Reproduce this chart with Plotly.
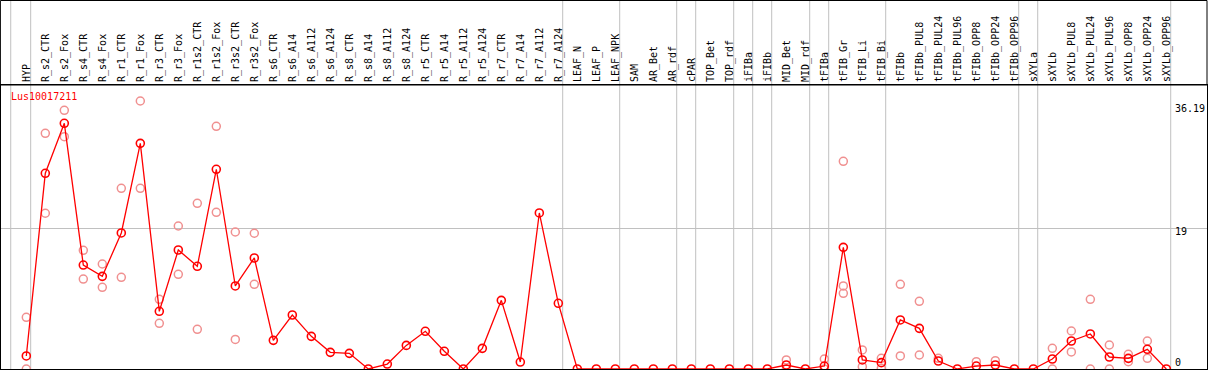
import plotly.graph_objects as go

categories = ["HYP", "R_s2_CTR", "R_s2_Fox", "R_s4_CTR", "R_s4_Fox", "R_r1_CTR", "R_r1_Fox",
              "R_r3_CTR", "R_r3_Fox", "R_r1s2_CTR", "R_r1s2_Fox", "R_r3s2_CTR", "R_r3s2_Fox",
              "R_s6_CTR", "R_s6_A14", "R_s6_A112", "R_s6_A124", "R_s8_CTR", "R_s8_A14", "R_s8_A112",
              "R_s8_A124", "R_r5_CTR", "R_r5_A14", "R_r5_A112", "R_r5_A124", "R_r7_CTR", "R_r7_A14",
              "R_r7_A112", "R_r7_A124", "LEAF_N", "LEAF_P", "LEAF_NPK", "SAM", "AR_Bet", "AR_rdf",
              "cPAR", "TOP_Bet", "TOP_rdf", "iFIBa", "iFIBb", "MID_Bet", "MID_rdf", "tFIBa",
              "tFIB_Gr", "tFIB_Li", "tFIB_Bi", "tFIBb", "tFIBb_PUL8", "tFIBb_PUL24", "tFIBb_PUL96",
              "tFIBb_OPP8", "tFIBb_OPP24", "tFIBb_OPP96", "sXYLa", "sXYLb", "sXYLb_PUL8",
              "sXYLb_PUL24", "sXYLb_PUL96", "sXYLb_OPP8", "sXYLb_OPP24", "sXYLb_OPP96"]

mean_values = [1.76, 26.43, 33.18, 14.04, 12.51, 18.37, 30.47, 7.79, 16.07, 13.87, 26.97, 11.21, 14.99,
               3.87, 7.29, 4.41, 2.25, 2.11, 0.0, 0.67, 3.19, 5.09, 2.39, 0.0, 2.79, 9.27, 0.94,
               21.07, 8.87, 0.0, 0.0, 0.0, 0.0, 0.0, 0.0, 0.0, 0.0, 0.0, 0.0, 0.0, 0.54, 0.0, 0.4,
               16.43, 1.22, 0.86, 6.62, 5.49, 1.08, 0.0, 0.4, 0.54, 0.0, 0.0, 1.35, 3.78, 4.73,
               1.62, 1.44, 2.66, 0.0]

N = None
rep_a = [6.98, 31.83, 34.93, 16.03, 14.18, 24.4, 36.19, 9.41, 19.31, 22.38, 32.77, 18.5, 18.33,
         N, N, N, N, N, N, N, N, N, N, N, N, N, N, N, N, N, N, N, N, N, N, N, N, N, N, N,
         1.22, N, 1.35, 28.05, 2.57, 1.44, 11.44, 9.14, 1.44, N, 0.99, 1.13, N, N, 2.79, 5.13,
         9.41, 3.24, 1.98, 3.78, N]
rep_b = [0.0, 21.03, 31.37, 12.15, 11.03, 12.38, 24.4, 6.17, 12.78, 5.36, 21.16, 4.0, 11.44,
         N, N, N, N, N, N, N, N, N, N, N, N, N, N, N, N, N, N, N, N, N, N, N, N, N, N, N,
         0.0, N, 0.0, 11.21, 0.32, 0.1, 1.76, 1.89, N, N, N, N, N, N, 0.0, 2.3,
         0.0, 0.0, 0.99, 1.44, N]
rep_c = [N] * 43 + [10.22] + [N] * 17

group_ends = [-0.82, 0.23, 28.23, 31.23, 34.23, 35.23, 37.23, 38.23, 39.23, 41.23, 42.23, 45.23,
              52.23, 53.23, 60.23]
gene_label = "Lus10017211"
y_labels = [(36.19, "36.19", -7), (19, "19", -3.5), (0, "0", 7)]

FONT = "DejaVu Sans Mono"
W, H = 1209, 370
ML, MR, MT, MB = 1, 2, 85, 1
plot_h = H - MT - MB
x_idx = list(range(len(categories)))

fig = go.Figure()
for reps in (rep_a, rep_b, rep_c):
    fig.add_trace(go.Scatter(
        x=x_idx, y=reps, mode="markers",
        marker=dict(symbol="circle-open", size=8, color="#f09090", line=dict(width=1.5, color="#f09090")),
        showlegend=False, hoverinfo="skip"))
fig.add_trace(go.Scatter(
    x=x_idx, y=mean_values, mode="lines+markers",
    line=dict(color="#ff0000", width=1.3),
    marker=dict(symbol="circle-open", size=8, color="#ff0000", line=dict(width=1.6, color="#ff0000")),
    showlegend=False))

shapes = []
for g in group_ends:
    shapes.append(dict(type="line", xref="x", yref="paper", x0=g, x1=g, y0=0, y1=1 + (MT - 0.5) / plot_h,
                       line=dict(color="#c0c0c0", width=1), layer="below"))
shapes.append(dict(type="rect", xref="paper", yref="paper", x0=-0.0005, x1=1, y0=1,
                   y1=1 + (MT - 0.5) / plot_h, line=dict(color="black", width=1)))

annotations = [dict(text=gene_label, xref="paper", yref="paper", x=8 / (W - ML - MR), y=1,
                    xanchor="left", yanchor="top", yshift=-4, showarrow=False,
                    font=dict(family=FONT, size=10, color="#ff0000"))]
for val, txt, shift in y_labels:
    annotations.append(dict(text=txt, xref="paper", yref="y", x=(1173 - ML) / (W - ML - MR), y=val,
                            xanchor="left", yanchor="middle", yshift=shift, showarrow=False,
                            font=dict(family=FONT, size=10, color="black")))

fig.update_layout(
    width=W, height=H, margin=dict(l=ML, r=MR, t=MT, b=MB, pad=0),
    paper_bgcolor="white", plot_bgcolor="white",
    shapes=shapes, annotations=annotations,
    xaxis=dict(range=[-1.332, 62.14], tickvals=x_idx, ticktext=categories, side="top",
               tickangle=-90, ticks="", showgrid=False, zeroline=False, showline=True,
               mirror=True, linecolor="black", linewidth=1,
               tickfont=dict(family=FONT, size=10, color="black")),
    yaxis=dict(range=[0, 38.35], tickvals=[19], showticklabels=False, ticks="", showgrid=True,
               gridcolor="#c0c0c0", gridwidth=1, zeroline=False, showline=True, mirror=True,
               linecolor="black", linewidth=1),
)
fig.write_html("out.html", config={"displayModeBar": False},
               post_script="document.body.style.margin='0';document.body.style.padding='0';")
